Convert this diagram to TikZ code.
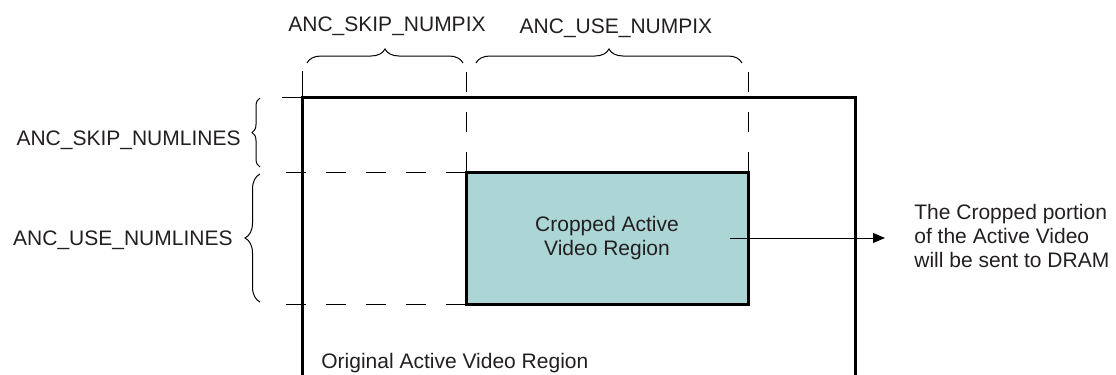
\documentclass[tikz,border=0pt]{standalone}
\usepackage{fontspec}
\setmainfont{Liberation Sans}
\usetikzlibrary{positioning,arrows.meta,calc,decorations.pathreplacing}
\definecolor{cropfill}{RGB}{172,214,214}
\definecolor{txtgray}{RGB}{35,31,32}
\tikzset{
  frame/.style={draw=black,line width=1.5pt,line join=miter},
  cropbox/.style={draw=black,line width=1.5pt,fill=cropfill,minimum width=141pt,
            minimum height=66pt,align=center,outer sep=0pt},
  guide/.style={draw=black,line width=0.5pt,dash pattern=on 10pt off 10pt},
  tickline/.style={draw=black,line width=0.5pt},
  span/.style={decorate,decoration={brace,amplitude=#1},line width=0.5pt},
  lbl/.style={text=txtgray,inner sep=0pt,font=\fontsize{10.5}{12}\selectfont},
  outarrow/.style={-{Triangle[length=6pt,width=5pt]},line width=0.5pt},
}

\begin{document}
\begin{tikzpicture}[x=0.5pt,y=-0.5pt,every node/.style={lbl}]
  \useasboundingbox (0,0) rectangle (1116,375);
  % outer active video region, open at the bottom
  \coordinate (tl) at (302,97);
  \coordinate (tr) at (855,97);
  \draw[frame] (302,377) -- (tl) -- (tr) -- (855,377);
  \draw[tickline] (302,71) -- (tl) -- (282,97);
  \node[cropbox] (crop) at (607,238) {Cropped Active\\Video Region};
  % guides from the cropped window
  \draw[guide] (crop.north west) -- ++(0,-101);
  \draw[guide] (crop.north east) -- ++(0,-101);
  \draw[guide] (crop.north west) -- ++(-194,0);
  \draw[guide] (crop.south west) -- ++(-191,0);
  % braces and their labels
  \draw[span=7pt] (307,63) -- (463,63);
  \draw[span=7pt] (476,63) -- (742,63);
  \draw[span=4pt] (260,167) -- (260,98);
  \draw[span=7.5pt] (260,302) -- (260,174);
  \node[anchor=base] (skippix) at (387,32) {ANC\_SKIP\_NUMPIX};
  \node[anchor=base] (usepix) at (616,33) {ANC\_USE\_NUMPIX};
  \node[anchor=base east] (skiplines) at (241,145) {ANC\_SKIP\_NUMLINES};
  \node[anchor=base east] (uselines) at (233,245) {ANC\_USE\_NUMLINES};
  \node[anchor=base west] (orig) at (321,368) {Original Active Video Region};
  \node[anchor=west,align=left] (note) at (914,236)
        {The Cropped portion\\of the Active Video\\will be sent to DRAM};
  \draw[outarrow] ($(crop.east)+(-18,0)$) -- ($(crop.east -| note.west)+(-29,0)$);
\end{tikzpicture}
\end{document}
